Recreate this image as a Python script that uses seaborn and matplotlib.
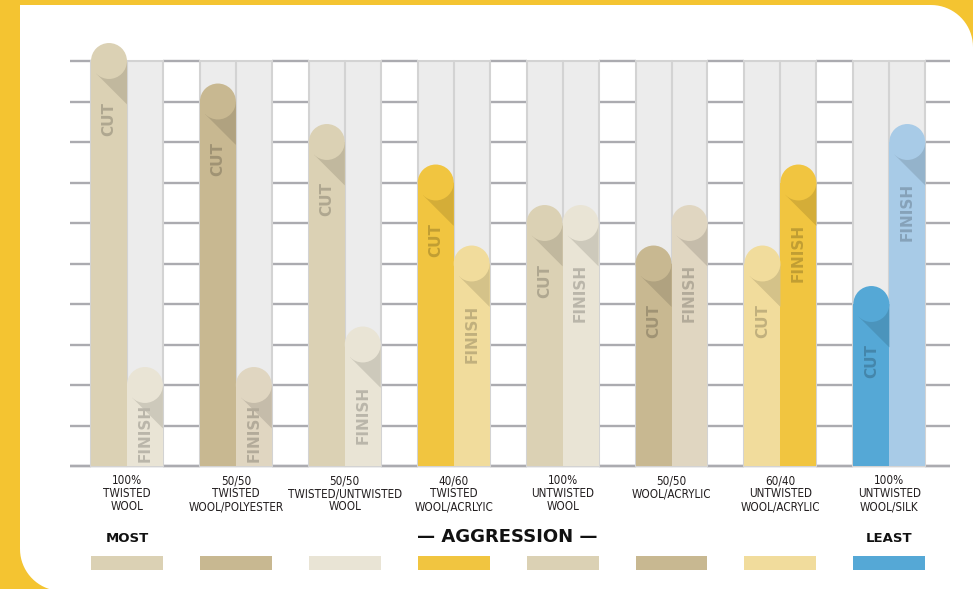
import numpy as np
import pandas as pd
import matplotlib
matplotlib.use("Agg")
import matplotlib.pyplot as plt
import seaborn as sns
from matplotlib.patches import Ellipse, Polygon, Rectangle
from matplotlib import font_manager
from matplotlib.font_manager import FontProperties
from matplotlib.colors import to_rgb

# ---------------- data ----------------
materials = ["100%\nTWISTED\nWOOL", "50/50\nTWISTED\nWOOL/POLYESTER",
             "50/50\nTWISTED/UNTWISTED\nWOOL", "40/60\nTWISTED\nWOOL/ACRLYIC",
             "100%\nUNTWISTED\nWOOL", "50/50\nWOOL/ACRYLIC",
             "60/40\nUNTWISTED\nWOOL/ACRYLIC", "100%\nUNTWISTED\nWOOL/SILK"]
cut_values = [10, 9, 8, 7, 6, 5, 5, 4]
finish_values = [2, 2, 3, 5, 6, 6, 7, 8]
cut_colors = ["#DBD1B4", "#C8B891", "#DBD1B4", "#F1C540", "#DBD1B4", "#C8B891", "#F1DC9C", "#55A8D6"]
finish_colors = ["#E9E4D5", "#E0D6C1", "#E9E4D5", "#F1DC9C", "#E9E4D5", "#E0D6C1", "#F1C540", "#A8CBE7"]
swatch_colors = ["#DBD1B4", "#C8B891", "#E9E4D5", "#F1C540", "#DBD1B4", "#C8B891", "#F1DC9C", "#55A8D6"]
kinds = ["CUT", "FINISH"]
grid_levels = list(range(0, 11))

df = pd.DataFrame({
    "material": materials * 2,
    "kind": ["CUT"] * len(materials) + ["FINISH"] * len(materials),
    "value": cut_values + finish_values,
})

# ---------------- figure ----------------
W, H = 973, 589
sns.set_theme(style="white")
fig = plt.figure(figsize=(W / 100, H / 100), dpi=100)
fig.patch.set_facecolor("#F4C431")

# white panel with two rounded corners
bg = fig.add_axes([0, 0, 1, 1], zorder=-5)
bg.set_xlim(0, W); bg.set_ylim(H, 0); bg.axis("off")
R1, R2 = 42, 42
t = np.linspace(0, np.pi / 2, 20)
pts = [(20, 5), (W - R1, 5)]
pts += [(W - R1 + R1 * np.sin(a), 5 + R1 - R1 * np.cos(a)) for a in t]
pts += [(W + 2, H + 2), (20 + R2, H + 2)]
pts += [(20 + R2 - R2 * np.sin(a), H + 2 - R2 + R2 * np.cos(a)) for a in t]
pts += [(20, 5)]
bg.add_patch(Polygon(pts, closed=True, facecolor="white", edgecolor="none"))

xmin, xmax = -0.523, 7.557
ymin, ymax = -0.1, 10.6
sx = 880 / (xmax - xmin)
sy = 40.5
ax_bottom_px = 466 + (-ymin) * sy
ax = fig.add_axes([70 / W, (H - ax_bottom_px) / H, 880 / W, (ymax - ymin) * sy / H])
ax.patch.set_alpha(0)

sns.barplot(data=df, x="material", y="value", hue="kind", hue_order=kinds,
            order=materials, width=0.66, gap=0, dodge=True, saturation=1,
            legend=False, ax=ax, errorbar=None)
bars = list(ax.patches)

ax.set_xlim(xmin, xmax)
ax.set_ylim(ymin, ymax)
for s in ax.spines.values():
    s.set_visible(False)
ax.set_yticks([])
ax.set_xlabel(""); ax.set_ylabel("")
ax.grid(False)

bw = 0.33
n = len(materials)
# gridline segments between the columns
starts = [xmin] + [i + bw for i in range(n)]
ends = [i - bw for i in range(n)] + [xmax]
for lev in grid_levels:
    ax.hlines([lev] * len(starts), starts, ends, color="#ABABB0", lw=1.7, zorder=0.2)
ax.hlines(0, xmin, xmax, color="#ABABB0", lw=1.7, zorder=0.2)

# gray columns behind each pair
for i in range(n):
    ax.add_patch(Rectangle((i - bw, 0), 2 * bw, grid_levels[-1],
                           facecolor="#ECECEC", edgecolor="#D3D3D3", lw=1.5, zorder=1.0))
    ax.plot([i, i], [0, grid_levels[-1]], color="#D3D3D3", lw=1.5, zorder=1.1)


def shade(c, f):
    rr, gg, bb = to_rgb(c)
    return (rr * f, gg * f, bb * f)


r = bw / 2 * sx  # cap radius in px
s2 = np.sqrt(2)
for p in bars:
    cx = p.get_x() + p.get_width() / 2
    v = p.get_height()
    if v <= 0:
        continue
    gi = int(round(cx))
    is_cut = cx < gi
    col = cut_colors[gi] if is_cut else finish_colors[gi]
    p.set_facecolor(col); p.set_edgecolor("none"); p.set_zorder(2)
    wd = p.get_width()
    sp = [(-r / s2, -r / s2), (r, -(r + r * s2)), (r, 0), (0, 0)]
    ax.add_patch(Polygon([(cx + dx / sx, v + dy / sy) for dx, dy in sp], closed=True,
                         facecolor=shade(col, 0.88), edgecolor="none", zorder=3))
    ax.add_patch(Ellipse((cx, v), wd, wd * sx / sy, facecolor=col, edgecolor="none",
                         zorder=4, clip_on=False))
    label = "CUT" if is_cut else "FINISH"
    L = (35 if is_cut else 60) / sy
    ytop = max(v - 40 / sy, L + 3 / sy)
    ax.text(cx, ytop - L / 2, label, rotation=90, ha="center", va="center",
            fontsize=11, fontweight="bold", color=shade(col, 0.8), zorder=5,
            family="DejaVu Sans")

# narrow font for the category labels
cond_fp = None
for f in font_manager.fontManager.ttflist:
    st = str(f.stretch)
    if st in ("condensed", "semi-condensed", "extra-condensed") and f.weight in (400, "normal", "regular") \
            and "Mono" not in f.name and "Serif" not in f.name and f.style == "normal":
        cond_fp = FontProperties(fname=f.fname)
        break
if cond_fp is None:
    names = {f.name for f in font_manager.fontManager.ttflist}
    fam = "Liberation Sans Narrow" if "Liberation Sans Narrow" in names else "Roboto"
    cond_fp = FontProperties(family=fam)

ax.set_xticks(range(n))
labels = ax.set_xticklabels(materials, color="#231F20", linespacing=1.0)
fs = 9.0
for lab in labels:
    lab.set_fontproperties(cond_fp)
    lab.set_fontsize(fs)
fig.canvas.draw()
rend = fig.canvas.get_renderer()
wmax = max(l.get_window_extent(rend).width for l in labels)
if wmax > 114:
    fs = fs * 114 / wmax
    for lab in labels:
        lab.set_fontsize(fs)
ax.tick_params(axis="x", length=0, pad=3)

# swatches
for i, c in enumerate(swatch_colors):
    ax.add_patch(Rectangle((i - bw, (466 - 570) / sy), 2 * bw, 14 / sy,
                           facecolor=c, edgecolor="none", clip_on=False))

# bottom titles
ty = (466 - 538) / sy
ax.text(0, ty, "MOST", ha="center", va="center", fontsize=9.5, fontweight="bold",
        color="#111111", clip_on=False)
ax.text(n - 1, ty, "LEAST", ha="center", va="center", fontsize=9.5,
        fontweight="bold", color="#111111", clip_on=False)
fig.text(507 / W, 1 - 537 / H, "— AGGRESSION —", ha="center", va="center",
         fontsize=13, fontweight="bold", color="#111111")

fig.savefig("out.png", dpi=100, facecolor=fig.get_facecolor())
